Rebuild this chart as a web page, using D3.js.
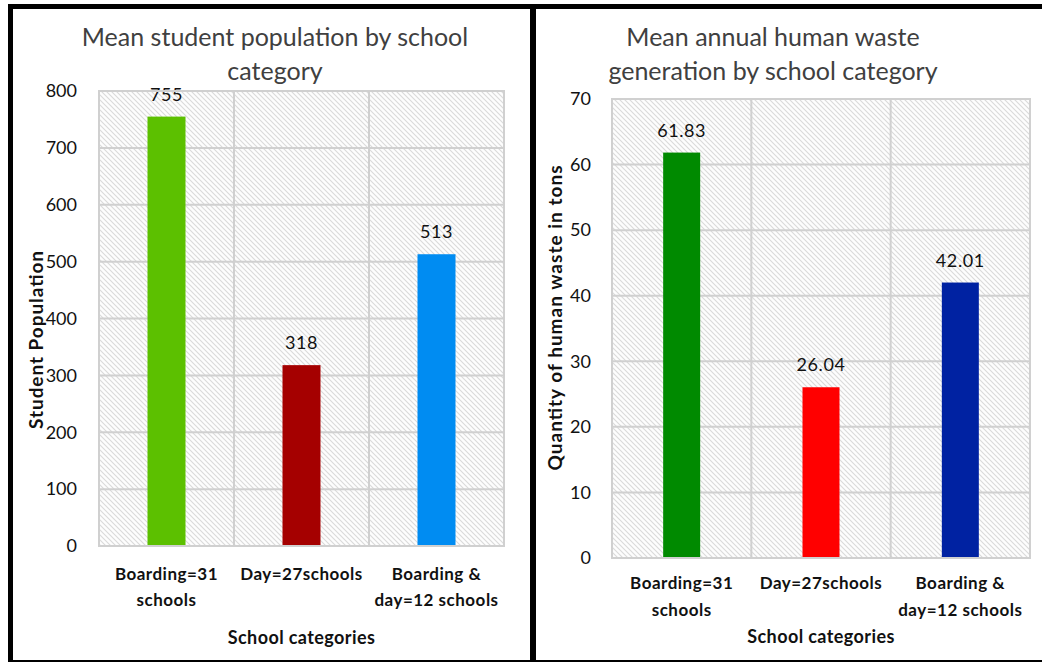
<!DOCTYPE html>
<html>
<head>
<meta charset="utf-8">
<script src="https://cdn.jsdelivr.net/npm/d3@7/dist/d3.min.js"></script>
<style>
  html, body { margin: 0; padding: 0; background: #fff; }
  svg { display: block; font-family: Lato, "Open Sans", sans-serif; }
</style>
</head>
<body>
<svg id="chart" width="1042" height="662"></svg>
<script>
// School categories (two-line labels)
const categories = [
  ["Boarding=31", "schools"],
  ["Day=27schools"],
  ["Boarding &", "day=12 schools"]
];

// Mean student population per category
const populationValues = [755, 318, 513];
const populationTicks = [0, 100, 200, 300, 400, 500, 600, 700, 800];
const populationColors = ["#5cc000", "#a50000", "#008cf2"];

// Mean annual human waste (tons) per category
const wasteValues = [61.83, 26.04, 42.01];
const wasteLabels = ["61.83", "26.04", "42.01"];
const wasteTicks = [0, 10, 20, 30, 40, 50, 60, 70];
const wasteColors = ["#008a00", "#ff0000", "#0022a2"];

const svg = d3.select("#chart");

// Diagonal hatch used as plot-area fill
const defs = svg.append("defs");
const pat = defs.append("pattern")
  .attr("id", "hatch")
  .attr("patternUnits", "userSpaceOnUse")
  .attr("width", 5).attr("height", 5);
pat.append("rect").attr("width", 5).attr("height", 5).attr("fill", "#fdfdfd");
pat.append("path")
  .attr("d", "M-1,-1 L6,6 M-1,4 L1,6 M4,-1 L6,1")
  .attr("stroke", "#dadada").attr("stroke-width", 1.1);

svg.append("rect").attr("width", 1042).attr("height", 662).attr("fill", "#fff");

function drawPanel(cfg) {
  const g = svg.append("g");
  const x = d3.scaleBand().domain(d3.range(categories.length))
    .range([cfg.left, cfg.right]).paddingInner(0).paddingOuter(0);
  const y = d3.scaleLinear().domain([0, cfg.max]).range([cfg.bottom, cfg.top]);

  // plot area background
  g.append("rect")
    .attr("x", cfg.left).attr("y", cfg.top)
    .attr("width", cfg.right - cfg.left).attr("height", cfg.bottom - cfg.top)
    .attr("fill", "url(#hatch)");

  // horizontal gridlines
  g.append("g").selectAll("line").data(cfg.ticks).join("line")
    .attr("x1", cfg.left).attr("x2", cfg.right)
    .attr("y1", d => y(d)).attr("y2", d => y(d))
    .attr("stroke", "#d0d0d0").attr("stroke-width", 2);

  // vertical category separators
  g.append("g").selectAll("line").data(d3.range(categories.length + 1)).join("line")
    .attr("x1", i => cfg.left + i * x.bandwidth()).attr("x2", i => cfg.left + i * x.bandwidth())
    .attr("y1", cfg.top).attr("y2", cfg.bottom)
    .attr("stroke", "#d0d0d0").attr("stroke-width", 2);

  // y axis tick labels
  const yAxis = d3.axisLeft(y).tickValues(cfg.ticks).tickSize(0).tickPadding(cfg.tickPad);
  const ya = g.append("g").attr("transform", `translate(${cfg.left},0)`).call(yAxis);
  ya.select(".domain").remove();
  ya.selectAll("text")
    .attr("font-family", "Lato, sans-serif")
    .attr("font-size", 18).attr("fill", "#111");

  // bars
  const bw = cfg.barWidth;
  g.append("g").selectAll("rect").data(cfg.values).join("rect")
    .attr("x", (d, i) => x(i) + x.bandwidth() / 2 - bw / 2)
    .attr("y", d => y(d))
    .attr("width", bw)
    .attr("height", d => y(0) - y(d))
    .attr("fill", (d, i) => cfg.colors[i]);

  // value labels
  g.append("g").selectAll("text").data(cfg.values).join("text")
    .attr("x", (d, i) => x(i) + x.bandwidth() / 2)
    .attr("y", d => y(d) - 16)
    .attr("text-anchor", "middle")
    .attr("font-size", 18).attr("letter-spacing", 0.6).attr("fill", "#111")
    .text((d, i) => cfg.labels[i]);

  // plot frame drawn over the labels
  g.append("rect")
    .attr("x", cfg.left).attr("y", cfg.top)
    .attr("width", cfg.right - cfg.left).attr("height", cfg.bottom - cfg.top)
    .attr("fill", "none").attr("stroke", "#d0d0d0").attr("stroke-width", 2);

  // category labels
  const cat = g.append("g").selectAll("text").data(categories).join("text")
    .attr("text-anchor", "middle")
    .attr("font-size", 17).attr("letter-spacing", 0.5)
    .attr("font-weight", 700).attr("fill", "#111");
  cat.each(function (lines, i) {
    const t = d3.select(this);
    lines.forEach((line, j) => {
      t.append("tspan")
        .attr("x", x(i) + x.bandwidth() / 2)
        .attr("y", cfg.catY + j * cfg.catLine)
        .text(line);
    });
  });

  // x axis title
  g.append("text")
    .attr("x", (cfg.left + cfg.right) / 2).attr("y", cfg.xTitleY)
    .attr("text-anchor", "middle")
    .attr("font-size", 18).attr("letter-spacing", 0.4)
    .attr("font-weight", 700).attr("fill", "#111")
    .text("School categories");

  // y axis title
  g.append("text")
    .attr("transform", `translate(${cfg.yTitleX},${cfg.yTitleY}) rotate(-90)`)
    .attr("text-anchor", "middle")
    .attr("font-size", 19).attr("font-weight", 700).attr("fill", "#111")
    .attr("textLength", cfg.yTitleLen).attr("lengthAdjust", "spacing")
    .text(cfg.yTitle);

  // chart title
  g.append("g").selectAll("text").data(cfg.title).join("text")
    .attr("x", cfg.titleX)
    .attr("y", (d, j) => cfg.titleY + j * 34)
    .attr("text-anchor", "middle")
    .attr("font-size", 25).attr("fill", "#404040")
    .text(d => d);
}

drawPanel({
  values: populationValues,
  labels: populationValues.map(String),
  colors: populationColors,
  ticks: populationTicks,
  max: 800,
  left: 99, right: 504, top: 91, bottom: 546,
  barWidth: 38, tickPad: 22,
  catY: 580, catLine: 26, xTitleY: 644,
  yTitle: "Student Population", yTitleX: 43, yTitleY: 340, yTitleLen: 178,
  title: ["Mean student population by school", "category"],
  titleX: 275, titleY: 46
});

drawPanel({
  values: wasteValues,
  labels: wasteLabels,
  colors: wasteColors,
  ticks: wasteTicks,
  max: 70,
  left: 612, right: 1030, top: 99, bottom: 558,
  barWidth: 37, tickPad: 21,
  catY: 589, catLine: 27, xTitleY: 643,
  yTitle: "Quantity of human waste in tons", yTitleX: 562, yTitleY: 318, yTitleLen: 305,
  title: ["Mean annual human waste", "generation by school category"],
  titleX: 773, titleY: 46
});

// outer black frame
const frame = svg.append("g").attr("fill", "#000");
frame.append("rect").attr("x", 8).attr("y", 4).attr("width", 1034).attr("height", 5);
frame.append("rect").attr("x", 8).attr("y", 4).attr("width", 5).attr("height", 658);
frame.append("rect").attr("x", 530).attr("y", 4).attr("width", 6).attr("height", 658);
frame.append("rect").attr("x", 8).attr("y", 660).attr("width", 1034).attr("height", 2);
</script>
</body>
</html>
